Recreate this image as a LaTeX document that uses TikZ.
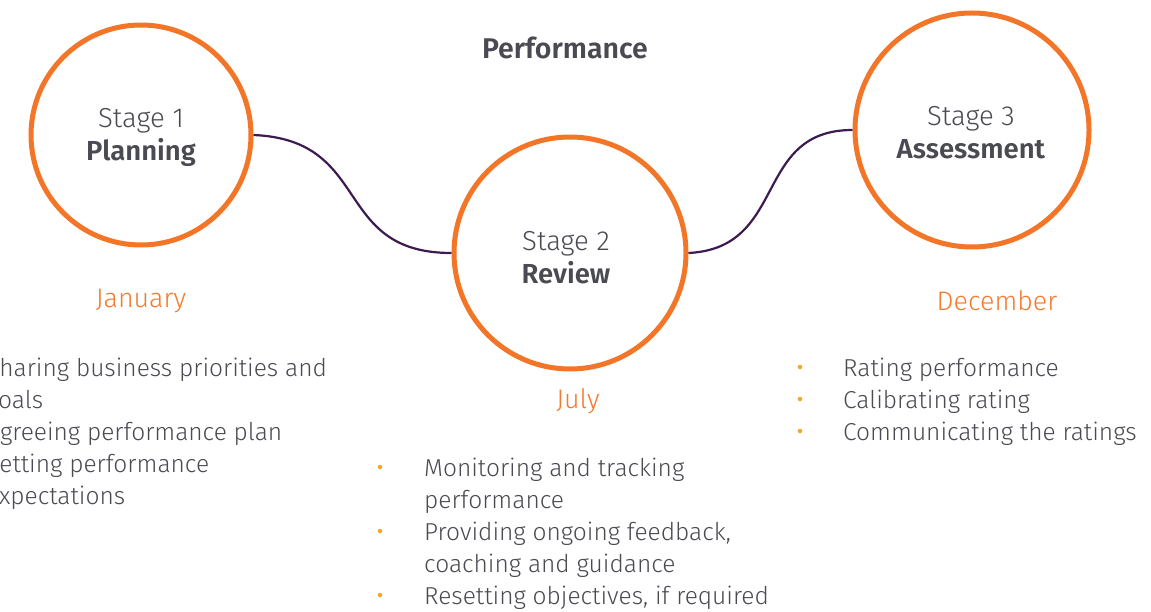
\documentclass[tikz,border=0pt]{standalone}
\usepackage{fontspec}
\setmainfont{Fira Sans}[UprightFont=* Light, BoldFont=* SemiBold]
\definecolor{ring}{HTML}{F37528}
\definecolor{month}{HTML}{F47B2E}
\definecolor{txt}{HTML}{4A4A52}
\definecolor{link}{HTML}{3D1A50}
\definecolor{dot}{HTML}{F5A623}
\tikzset{
  x=1pt, y=-1pt,
  stage/.style={circle, draw=ring, line width=5pt, inner sep=0pt},
  lbl/.style={text=txt, font=\fontsize{27.5}{33}\selectfont, align=center},
  mon/.style={text=month, font=\fontsize{26.8}{30}\selectfont},
  item/.style={text=txt, font=\fontsize{24.5}{28}\selectfont, anchor=base west, inner sep=0pt},
  bul/.style={circle, fill=dot, inner sep=0pt, minimum size=4.5pt},
  conn/.style={draw=link, line width=2.2pt},
}
\begin{document}
\begin{tikzpicture}
\useasboundingbox (0,0) rectangle (1151,612);
\clip (0,0) rectangle (1151,612);
\fill[white] (0,0) rectangle (1151,612);
\node[stage, minimum size=220pt] (c1) at (141,135) {};
\node[stage, minimum size=232pt] (c2) at (570,253) {};
\node[stage, minimum size=234pt] (c3) at (972,130) {};
\draw[conn] (c1.east) .. controls +(120,5) and +(-120,0) .. (c2.west);
\draw[conn] (c2.east) .. controls +(100,-5) and +(-100,0) .. (c3.west);
\node[lbl, font=\bfseries\fontsize{28.5}{33}\selectfont] (perf) at (565,48) {Performance};
\node[lbl] (s1) at (141,137) {Stage 1\\\textbf{Planning}};
\node[lbl] (s2) at (566,258) {Stage 2\\\textbf{Review}};
\node[lbl] (s3) at (971,133) {Stage 3\\\textbf{Assessment}};
\node[mon] (m1) at (141,301) {January};
\node[mon] (m2) at (578,401) {July};
\node[mon] (m3) at (997,301) {December};
% left list
\node[item] (a1) at (-14,376) {Sharing business priorities and};
\node[item] (a2) at (-14,408) {goals};
\node[item] (a3) at (-14,440) {Agreeing performance plan};
\node[item] (a4) at (-14,472) {Setting performance};
\node[item] (a5) at (-14,504) {expectations};
\node[bul] (ab1) at (-56,368) {};
\node[bul] (ab2) at (-56,432) {};
\node[bul] (ab3) at (-56,464) {};
% middle list
\node[item] (b1) at (424,476) {Monitoring and tracking};
\node[item] (b2) at (424,508) {performance};
\node[item] (b3) at (424,540) {Providing ongoing feedback,};
\node[item] (b4) at (424,572) {coaching and guidance};
\node[item] (b5) at (424,604) {Resetting objectives, if required};
\node[bul] (bb1) at (380,467) {};
\node[bul] (bb2) at (380,531) {};
\node[bul] (bb3) at (380,595) {};
% right list
\node[item] (r1) at (843,376) {Rating performance};
\node[item] (r2) at (843,408) {Calibrating rating};
\node[item] (r3) at (843,440) {Communicating the ratings};
\node[bul] (rb1) at (800,367) {};
\node[bul] (rb2) at (800,399) {};
\node[bul] (rb3) at (800,431) {};
\end{tikzpicture}
\end{document}
